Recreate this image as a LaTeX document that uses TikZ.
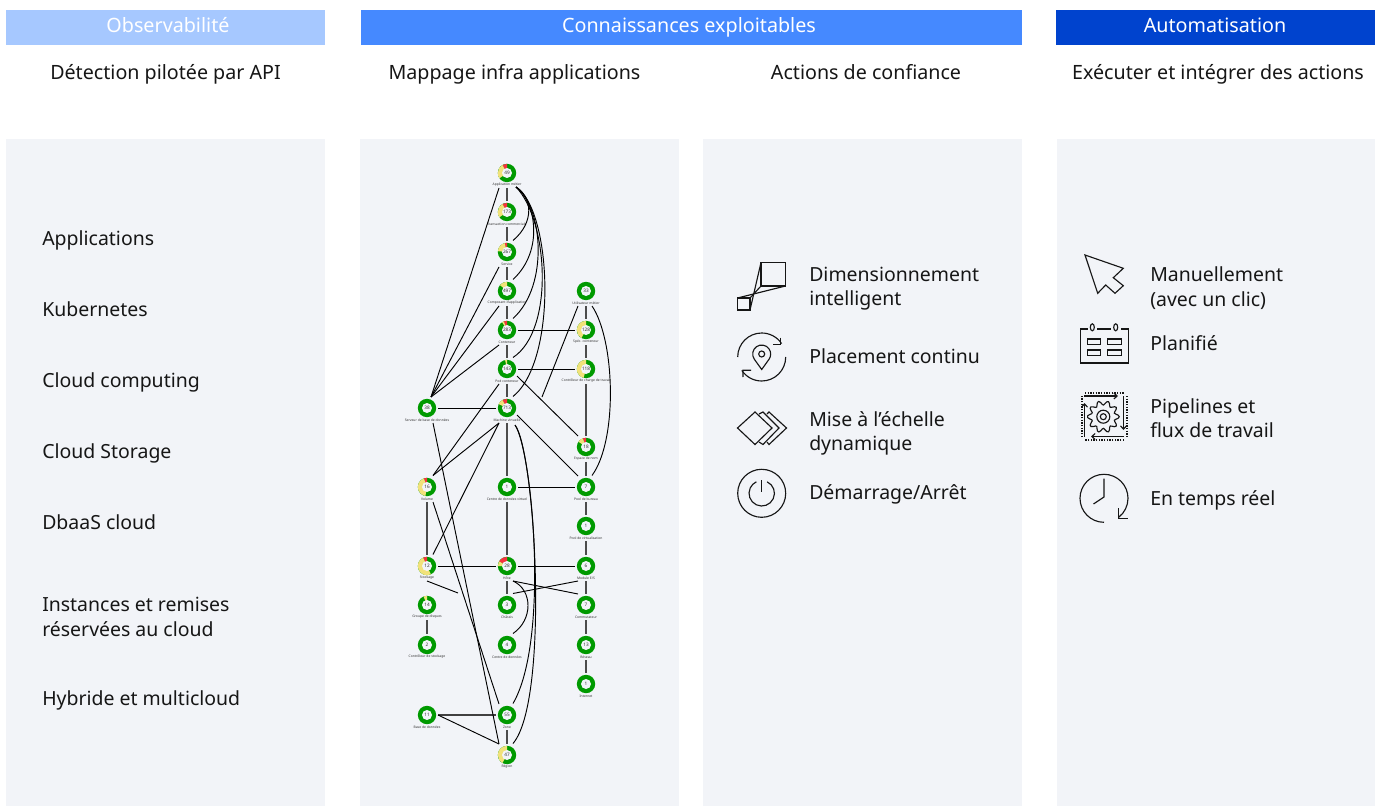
\documentclass[tikz,border=0pt]{standalone}
\usepackage{fontspec}
\setmainfont{Noto Sans}
\usetikzlibrary{arrows.meta,calc}
\definecolor{panelbg}{HTML}{F2F4F8}
\definecolor{hdA}{HTML}{A6C8FF}
\definecolor{hdB}{HTML}{4589FF}
\definecolor{hdC}{HTML}{0043CE}
\definecolor{ink}{HTML}{161616}
\definecolor{okgreen}{HTML}{009A00}
\definecolor{warnyel}{HTML}{F1E27A}
\definecolor{badred}{HTML}{F5333F}
\tikzset{
  x=0.75pt,y=-0.75pt,
  panel/.style={fill=panelbg,draw=none},
  header/.style={anchor=base,draw=none,text=white,font=\fontsize{14.8}{17}\selectfont,inner sep=0pt},
  body/.style={anchor=base west,text=ink,font=\fontsize{14.6}{18.6}\selectfont,align=left,inner sep=0pt},
  coltitle/.style={anchor=base,text=ink,font=\fontsize{14.75}{18}\selectfont,inner sep=0pt},
  ring/.style={circle,minimum size=17pt,inner sep=0pt,draw=none},
  tag/.style={font=\fontsize{2.5}{3}\selectfont,text=black!80,inner sep=0pt,anchor=center},
  val/.style={font=\fontsize{3.5}{4}\selectfont,text=black!80},
  link/.style={draw=black,line width=0.7pt},
  vlink/.style={draw=black!70,line width=0.9pt},
  iconline/.style={draw=ink,line width=0.85pt,line join=miter},
  dots/.style={line width=1.5pt,ink,dash pattern=on 1pt off 1pt},
  flow/.style={iconline,-{Straight Barb[length=2.5pt,width=4.5pt]}},
}
% \donut{name}{x}{y}{value}{label}{yellow degrees}{red degrees}; y grows downward, so angles are mirrored
\newcommand{\donut}[7]{%
  \fill[okgreen] (#2,#3) circle[radius=9.2];
  \ifdim #7pt>0pt \fill[badred] (#2,#3) -- ++(0,-9.2) arc[start angle=-90,delta angle=-#7,radius=9.2] -- cycle;\fi
  \ifdim #6pt>0pt \fill[warnyel] (#2,#3) -- ++({-90-(#7)}:9.2) arc[start angle={-90-(#7)},delta angle=-#6,radius=9.2] -- cycle;\fi
  \fill[panelbg] (#2,#3) circle[radius=5];
  \node[ring,val] (#1) at (#2,#3) {#4};
  \node[tag] (#1t) at (#2,#3+12) {#5};
  \coordinate (#1-s) at (#2,#3+15);
  \coordinate (#1-n) at (#2,#3-11);
  \coordinate (#1-e) at (#2+11,#3);
  \coordinate (#1-w) at (#2-11,#3);
  \coordinate (#1-sw) at (#2-8,#3+15);
  \coordinate (#1-se) at (#2+6,#3+15);
  \coordinate (#1-nw) at (#2-8,#3-11);
  \coordinate (#1-ne) at (#2+6,#3-11.5);
  \coordinate (#1-r) at (#2+10,#3+7);
}
\begin{document}
\begin{tikzpicture}
\useasboundingbox (0,0) rectangle (1378,806);
\fill[white] (0,0) rectangle (1378,806);
% headers
\fill[hdA] (6,10) rectangle (325,45);
\fill[hdB] (361,10) rectangle (1022,45);
\fill[hdC] (1056,10) rectangle (1375,45);
\node[header] (hA) at (168,32.5) {Observabilité};
\node[header] (hB) at (689,32.5) {Connaissances exploitables};
\node[header] (hC) at (1215,32.5) {Automatisation};
% column titles
\node[coltitle] (tA) at (165.5,79.5) {Détection pilotée par API};
\node[coltitle] (tB) at (514.5,79.5) {Mappage infra applications};
\node[coltitle] (tC) at (866,79.5) {Actions de confiance};
\node[coltitle] (tD) at (1218,79.5) {Exécuter et intégrer des actions};
% panels
\fill[panel] (6,139) rectangle (325,806);
\fill[panel] (360,139) rectangle (679,806);
\fill[panel] (703,139) rectangle (1022,806);
\fill[panel] (1057,139) rectangle (1375,806);
% left list
\node[body] (l1) at (42,245) {Applications};
\node[body] (l2) at (42,316) {Kubernetes};
\node[body] (l3) at (42,387) {Cloud computing};
\node[body] (l4) at (42,458) {Cloud Storage};
\node[body] (l5) at (42,529) {DbaaS cloud};
\node[body,anchor=north west] (l6) at (42,597) {Instances et remises\\réservées au cloud};
\node[body] (l7) at (42,705) {Hybride et multicloud};
% graph nodes
\donut{app}{507}{173}{49}{Application métier}{95}{30}
\donut{tx}{507}{212}{173}{Transaction commerciale}{95}{30}
\donut{svc}{507}{252}{267}{Service}{70}{15}
\donut{cmp}{507}{291}{497}{Composant d\symbol{39}application}{50}{0}
\donut{ctr}{507}{330}{283}{Conteneur}{12}{20}
\donut{pod}{507}{369}{143}{Pod conteneur}{12}{0}
\donut{vm}{507}{408}{713}{Machine virtuelle}{35}{30}
\donut{srv}{427}{408}{38}{Serveur de base de données}{0}{0}
\donut{usr}{586}{291}{33}{Utilisateur métier}{0}{0}
\donut{spec}{586}{330}{128}{Spéc. conteneur}{150}{0}
\donut{wlc}{586}{369}{118}{Contrôleur de charge de travail}{165}{0}
\donut{ns}{586}{447}{18}{Espace de nom}{35}{20}
\donut{vol}{427}{487}{16}{Volume}{150}{20}
\donut{vdc}{507}{487}{1}{Centre de données virtuel}{0}{0}
\donut{dp}{586}{487}{7}{Pool de bureau}{0}{0}
\donut{vp}{586}{526}{1}{Pool de virtualisation}{0}{0}
\donut{sto}{427}{566}{12}{Stockage}{180}{25}
\donut{host}{507}{566}{28}{Hôte}{30}{60}
\donut{io}{586}{566}{6}{Module E/S}{0}{0}
\donut{dg}{427}{605}{14}{Groupe de disques}{22}{0}
\donut{sc}{427}{645}{2}{Contrôleur de stockage}{0}{0}
\donut{ch}{507}{605}{3}{Châssis}{0}{0}
\donut{dc}{507}{645}{4}{Centre de données}{0}{0}
\donut{sw}{586}{605}{7}{Commutateur}{0}{0}
\donut{net}{586}{645}{13}{Réseau}{0}{0}
\donut{inet}{586}{684}{1}{Internet}{0}{0}
\donut{db}{427}{715}{11}{Base de données}{0}{0}
\donut{zone}{507}{715}{55}{Zone}{0}{0}
\donut{reg}{507}{755}{47}{Région}{150}{0}
\coordinate (freeA) at (458,593);
\coordinate (freeB) at (542,397);
\coordinate (srvhub) at (431,397);
\coordinate (appc) at (516,187);
\coordinate (vmc) at (515,425);
% vertical links
\foreach \a/\b in {app/tx,tx/svc,svc/cmp,cmp/ctr,ctr/pod,pod/vm,vm/vdc,vdc/host,host/ch,usr/spec,spec/wlc,wlc/ns,ns/dp,dp/vp,vp/io,io/sw,sw/net,net/inet,vol/sto,dg/sc,zone/reg}
  \draw[vlink] (\a-s) -- (\b-n);
% horizontal links
\foreach \a/\b in {ctr/spec,pod/wlc,srv/vm,vdc/dp,sto/host,host/io}
  \draw[link] (\a-e) -- (\b-w);
\draw[link,draw=black!75,line width=1.1pt] (db-e) -- (zone-w);
% diagonals
\foreach \a in {app,svc,cmp,ctr}
  \draw[link] (\a-sw) -- (srvhub);
\draw[link] (pod-sw) -- (vol-ne);
\draw[link] (vm-sw) -- (vol-ne);
\draw[link] (vm-sw) -- (sto-ne);
\draw[link] (pod-r) -- (ns-nw);
\draw[link] (vm-r) -- (dp-nw);
\draw[link] (srv-se) -- (reg-nw);
\draw[link] (vol-se) -- (zone-nw);
\draw[link] (db-e) -- (reg-nw);
\draw[link] (host-se) -- (sw-nw);
\draw[link] (io-sw) -- (ch-ne);
\draw[link] (sto-s) -- (freeA);
\draw[link] (usr-sw) -- (freeB);
% curved links
\draw[link] (appc) .. controls (532,197) and (535,222) .. (svc-ne);
\draw[link] (appc) .. controls (535,200) and (545,250) .. (cmp-ne);
\draw[link] (appc) .. controls (542,205) and (550,285) .. (ctr-ne);
\draw[link] (appc) .. controls (548,220) and (555,330) .. (pod-ne);
\draw[link] (appc) .. controls (552,210) and (558,360) .. (vm-ne);
\draw[link] (vmc) .. controls (532,450) and (550,640) .. (zone-ne);
\draw[link] (vmc) .. controls (535,450) and (550,700) .. (reg-ne);
\draw[link] (host-se) .. controls (533,590) and (533,620) .. (dc-ne);
\draw[link] (usr-se) .. controls (615,340) and (618,440) .. (dp-ne);
% right text
\node[body,anchor=north west] (a1) at (809,266.5) {Dimensionnement\\intelligent};
\node[body] (a2) at (809,363) {Placement continu};
\node[body,anchor=north west] (a3) at (809,411) {Mise à l\symbol{39}échelle\\dynamique};
\node[body] (a4) at (809,499) {Démarrage/Arrêt};
\node[body,anchor=north west] (b1) at (1150,266.5) {Manuellement\\(avec un clic)};
\node[body] (b2) at (1150,350) {Planifié};
\node[body,anchor=north west] (b3) at (1150,398) {Pipelines et\\flux de travail};
\node[body] (b4) at (1150,505) {En temps réel};
% icon: smart sizing
\draw[iconline] (761,262.5) rectangle (785.5,286);
\draw[iconline] (737.5,298) rectangle (750,310);
\draw[iconline] (761,262.5) -- (750,310);
\draw[iconline] (761,286) -- (750,298);
\draw[iconline] (785.5,286) -- (737.5,298);
% icon: continuous placement
\draw[iconline] (737.7,357) arc[start angle=-180,end angle=-34,radius=24];
\draw[iconline] (780.5,337.5) -- (780.5,344.3) -- (772.5,344.3);
\draw[iconline] (785.7,357) arc[start angle=0,end angle=146,radius=24];
\draw[iconline] (743,377) -- (742.9,370.3) -- (751,370.3);
\draw[iconline] (761.7,369.5) -- (754.3,359.2) arc[start angle=-215,end angle=35,radius=9] -- cycle;
\draw[iconline] (761.7,354) circle[radius=3];
% icon: dynamic scaling
\draw[iconline] (755,412) -- (772,428) -- (755,444.5) -- (737.5,428) -- cycle;
\draw[iconline] (759,414) -- (763,412) -- (779,428) -- (763,444.5) -- (759,442);
\draw[iconline] (767,414) -- (769,412) -- (786.5,428) -- (769,444.5) -- (767,442);
% icon: power
\draw[iconline] (761.7,493.3) circle[radius=24];
\draw[iconline] (767.1,481.8) arc[start angle=-65,end angle=245,radius=12.7];
\draw[iconline] (761.7,480) -- (761.7,492);
% icon: cursor
\draw[iconline] (1085,255) -- (1123.3,268.3) -- (1113.3,277.7) -- (1123.3,285.7) -- (1115,293.3) -- (1105.7,285) -- (1097.7,293.3) -- cycle;
% icon: calendar
\draw[iconline] (1087.5,329) -- (1080.5,329) -- (1080.5,363) -- (1128.5,363) -- (1128.5,329) -- (1121,329);
\draw[iconline] (1097,329) -- (1110.5,329);
\draw[iconline] (1092.3,327.3) ellipse[x radius=2,y radius=3.5];
\draw[iconline] (1115.7,327.3) ellipse[x radius=2,y radius=3.5];
\draw[iconline] (1087.5,339) rectangle (1100.5,344.5);
\draw[iconline] (1107.5,339) rectangle (1121.5,344.5);
\draw[iconline] (1087.5,350) rectangle (1100.5,355.5);
\draw[iconline] (1107.5,350) rectangle (1121.5,355.5);
% icon: gear with circular arrows
\draw[iconline] plot[smooth cycle,samples=61,domain=0:354,variable=\t] ({1103.3+(13.8+2.2*cos(10*\t))*cos(\t)},{416.7+(13.8+2.2*cos(10*\t))*sin(\t)});
\draw[iconline] (1103.3,416.7) circle[radius=6.5];
\draw[iconline] (1103.3,416.7) circle[radius=3];
\draw[dots] (1085,393) -- (1124,393);
\draw[flow] (1084,396) -- (1118,396);
\draw[dots] (1127,396) -- (1127,437);
\draw[flow] (1123.5,396) -- (1123.5,430);
\draw[dots] (1124,439.5) -- (1084,439.5);
\draw[flow] (1124,436.5) -- (1091,436.5);
\draw[dots] (1082,437) -- (1082,396);
\draw[flow] (1084.5,436.5) -- (1084.5,403);
% icon: clock
\draw[iconline] (1104,522.3) arc[start angle=90,end angle=412,radius=24];
\draw[iconline] (1104,478.5) -- (1104,497) -- (1093.5,504);
\draw[iconline] (1118.3,508.3) -- (1118.3,518.5) -- (1127.5,518.5);
\end{tikzpicture}
\end{document}
